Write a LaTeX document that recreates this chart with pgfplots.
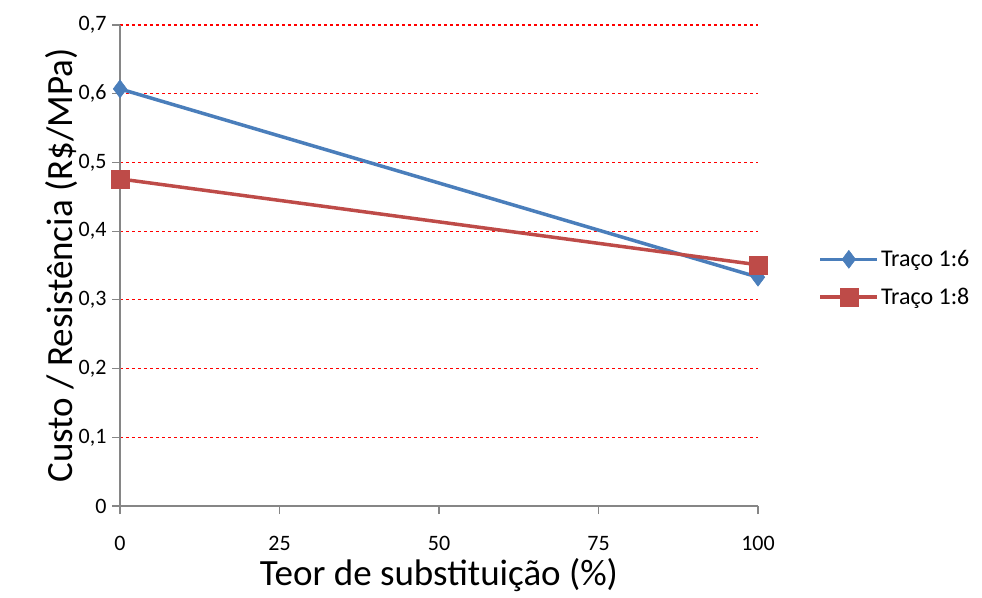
\documentclass[border=0pt]{standalone}
\usepackage{fontspec}
\setmainfont{Carlito}
\usepackage{pgfplots}
\pgfplotsset{compat=1.18}
\usetikzlibrary{calc}
\definecolor{exblue}{HTML}{4A7EBB}
\definecolor{exred}{HTML}{BE4B48}
\definecolor{gridgray}{HTML}{868686}
\begin{document}
\begin{tikzpicture}
\begin{axis}[
  name=ax,
  scale only axis,
  width=638pt, height=481pt,
  xmin=0, xmax=100, ymin=0, ymax=0.7,
  xtick={0,25,50,75,100},
  ytick={0,0.1,...,0.7},
  axis x line=bottom, axis y line=left,
  xtick pos=bottom, ytick pos=left,
  axis line style={gridgray, line width=1.2pt, -},
  ymajorgrids, grid style={red, dashed, line width=1.2pt},
  tick style={gridgray, line width=1.2pt},
  tick align=outside, major tick length=8pt,
  /pgf/number format/assume math mode=true,
  x tick label style={font=\fontsize{22}{24}\selectfont, text=black, yshift=-19pt},
  y tick label style={font=\fontsize{22}{24}\selectfont, text=black, xshift=-2pt,
    /pgf/number format/use comma, /pgf/number format/fixed,
    /pgf/number format/precision=1},
  xlabel={Teor de substituição (\%)},
  ylabel={Custo / Resistência (R\$/MPa)},
  label style={font=\fontsize{37}{40}\selectfont},
  xlabel style={yshift=-1pt},
  ylabel style={yshift=-6pt},
  legend style={draw=none, fill=none, at={(1.09,0.54)}, anchor=north west,
    font=\fontsize{24}{28}\selectfont, row sep=16pt,
    /tikz/every even column/.append style={column sep=0pt}},
  legend cell align=left,
  legend image code/.code={
    \draw[#1, mark=none] (0cm,0cm) -- (2.0cm,0cm);
    \draw[#1, only marks] plot coordinates {(1.0cm,0cm)};
  },
]
\addplot[exblue, line width=3.5pt, mark=diamond*, mark size=9pt,
  mark options={solid, line width=0.5pt}]
  coordinates {(0,0.607) (100,0.333)};
\addlegendentry{Traço 1:6}
\addplot[exred, line width=3.5pt, mark=square*, mark size=9pt,
  mark options={solid, line width=0.5pt}]
  coordinates {(0,0.476) (100,0.351)};
\addlegendentry{Traço 1:8}
\end{axis}
\pgfresetboundingbox
\path ($(ax.south west)+(-120pt,-91pt)$) rectangle ++(982pt,597pt);
\end{tikzpicture}
\end{document}
